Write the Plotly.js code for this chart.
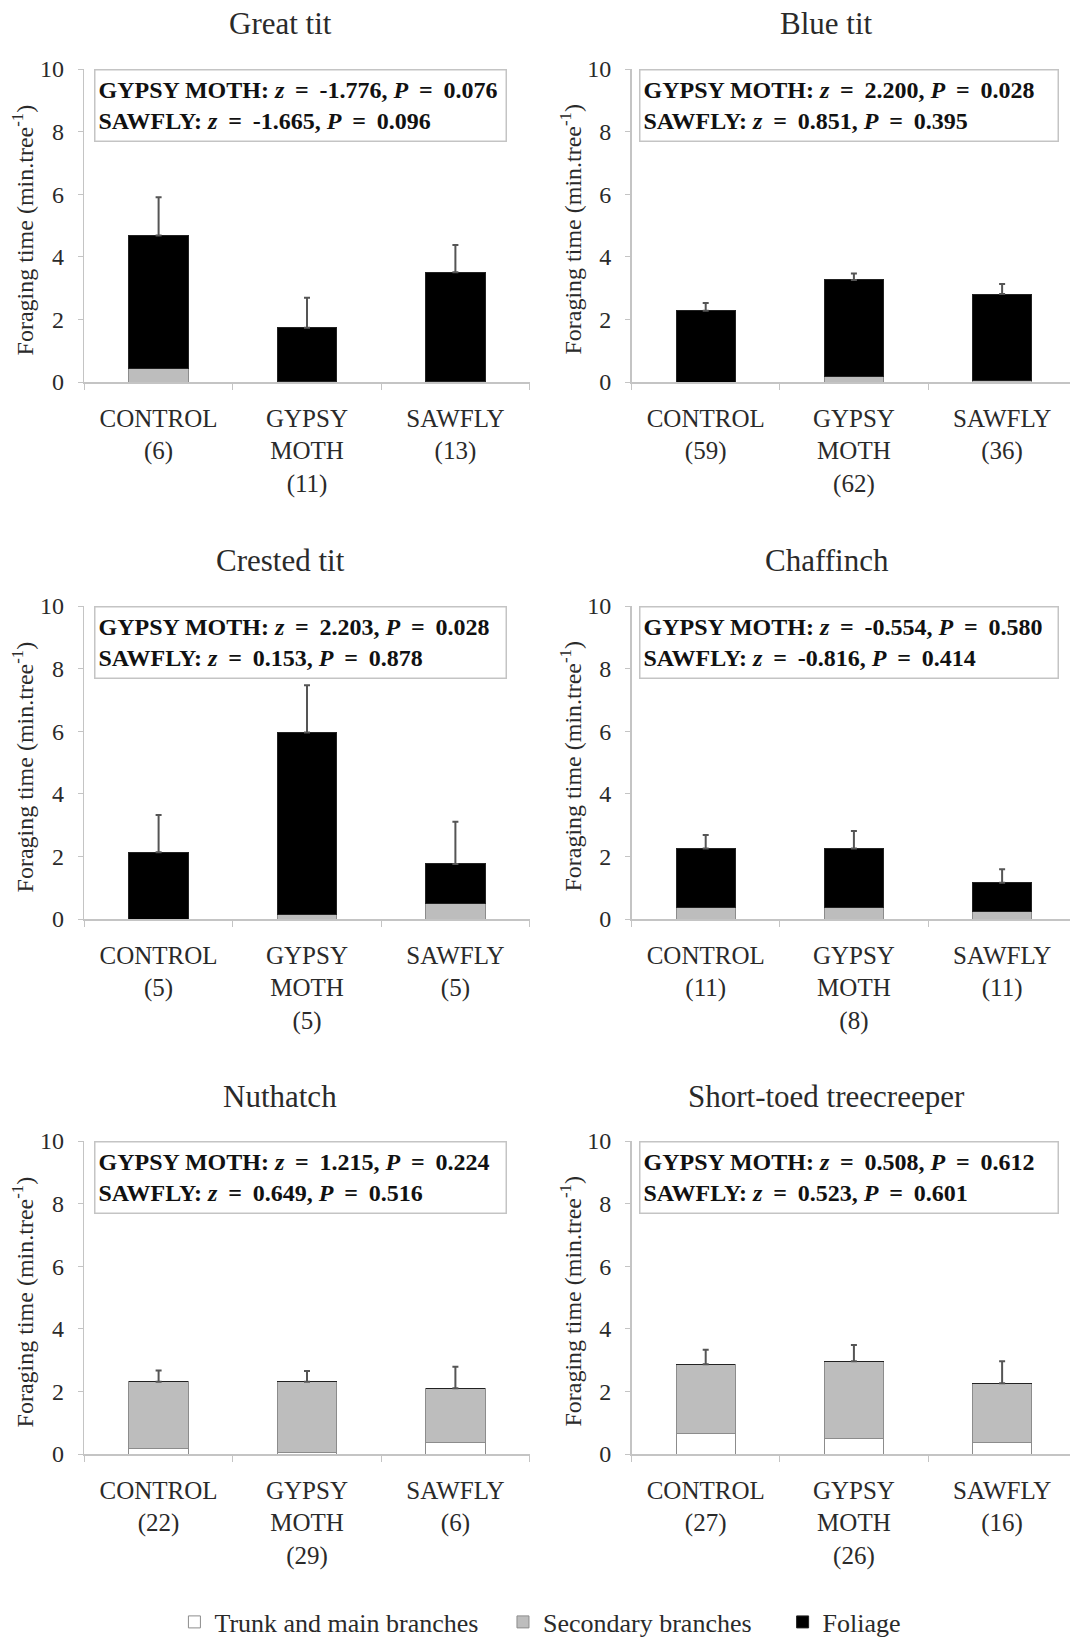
<!DOCTYPE html>
<html>
<head>
<meta charset="utf-8">
<script src="https://cdn.plot.ly/plotly-3.0.1.min.js"></script>
<style>
  html, body { margin: 0; padding: 0; background: #fff; }
  #chart { width: 1070px; height: 1641px; }
</style>
</head>
<body>
<div id="chart"></div>
<script>
// ---------------- DATA ----------------
const species = ["Great tit", "Blue tit", "Crested tit", "Chaffinch", "Nuthatch", "Short-toed treecreeper"];
const treatmentLabels = ["CONTROL", "GYPSY<br>MOTH", "SAWFLY"];
const sampleSizes = [[6, 11, 13], [59, 62, 36], [5, 5, 5], [11, 8, 11], [22, 29, 6], [27, 26, 16]];

// foraging time (min.tree-1) by substrate
const trunk     = [[0, 0, 0], [0, 0, 0], [0, 0, 0], [0, 0, 0], [0.18, 0.05, 0.37], [0.64, 0.51, 0.37]];
const secondary = [[0.44, 0.02, 0.03], [0, 0.16, 0.05], [0, 0.14, 0.48], [0.36, 0.36, 0.23], [2.13, 2.26, 1.73], [2.23, 2.45, 1.89]];
const foliage   = [[4.24, 1.71, 3.48], [2.28, 3.10, 2.76], [2.13, 5.82, 1.28], [1.89, 1.89, 0.93], [0, 0, 0], [0, 0, 0]];
const errorUp   = [[1.22, 0.96, 0.87], [0.24, 0.21, 0.32], [1.19, 1.51, 1.35], [0.43, 0.56, 0.43], [0.36, 0.34, 0.69], [0.46, 0.52, 0.70]];

// statistics
const gypsyZ  = ["-1.776", "2.200", "2.203", "-0.554", "1.215", "0.508"];
const gypsyP  = ["0.076", "0.028", "0.028", "0.580", "0.224", "0.612"];
const sawflyZ = ["-1.665", "0.851", "0.153", "-0.816", "0.649", "0.523"];
const sawflyP = ["0.096", "0.395", "0.878", "0.414", "0.516", "0.601"];

const substrateNames = ["Trunk and main branches", "Secondary branches", "Foliage"];
const yTitle = "Foraging time (min.tree<sup>-1</sup>)";
const yTicks = [0, 2, 4, 6, 8, 10];

// ---------------- STYLE / LAYOUT ----------------
const W = 1070, H = 1641;
const FONT = "Liberation Serif";
const TXT = "#2a2a2a";
const fills = ["#ffffff", "#bdbdbd", "#000000"];
const lines = ["#8c8c8c", "#8c8c8c", "#222222"];
const legendPad = ["&nbsp;&nbsp;&nbsp;", "&nbsp;&nbsp;&nbsp;&nbsp;", ""];

// pixel geometry of panels
const colX = [[84.4, 529.6], [631.6, 1070]];
const colRangeMax = [2.5, 2.458];
const rowY = [[69, 382], [606, 919], [1141, 1454]]; // [top(10), bottom(0)]
const titleX = [280, 826.5];
const titleY = [23, 560, 1096];
const boxX = [94, 638.6];
const boxW = [404, 411];
const THS = "&#8201;"; // thin space

const data = [];
const layout = {
  width: W, height: H,
  margin: {l: 0, r: 0, t: 0, b: 0, autoexpand: false},
  paper_bgcolor: "#fff", plot_bgcolor: "#fff",
  barmode: "stack",
  font: {family: FONT, color: TXT, size: 22},
  showlegend: true,
  legend: {
    orientation: "h", x: 0.163, xanchor: "left", y: 1 - 1622 / H, yanchor: "middle",
    traceorder: "normal", font: {family: FONT, size: 26, color: TXT},
    itemwidth: 30, bgcolor: "rgba(0,0,0,0)"
  },
  annotations: [],
  hovermode: false
};

species.forEach((sp, k) => {
  const col = k % 2, row = Math.floor(k / 2);
  const ax = k + 1;
  const xName = "x" + (ax === 1 ? "" : ax), yName = "y" + (ax === 1 ? "" : ax);
  const xKey = "xaxis" + (ax === 1 ? "" : ax), yKey = "yaxis" + (ax === 1 ? "" : ax);
  const cats = treatmentLabels.map((t, j) => t + "<br>(" + sampleSizes[k][j] + ")");
  const series = [trunk[k], secondary[k], foliage[k]];

  series.forEach((vals, s) => {
    data.push({
      type: "bar", x: cats, y: vals, xaxis: xName, yaxis: yName,
      name: substrateNames[s] + legendPad[s], legendgroup: substrateNames[s], showlegend: k === 0,
      marker: {color: fills[s], line: {color: lines[s], width: 1}},
      width: 0.4, hoverinfo: "skip"
    });
  });

  const totals = cats.map((c, j) => trunk[k][j] + secondary[k][j] + foliage[k][j]);
  data.push({
    type: "scatter", mode: "markers", x: cats, y: totals, xaxis: xName, yaxis: yName,
    marker: {opacity: 0, size: 1}, showlegend: false, hoverinfo: "skip",
    error_y: {type: "data", symmetric: false, array: errorUp[k], arrayminus: [0, 0, 0],
              color: "#555", thickness: 2, width: 3}
  });

  const [x0, x1] = colX[col];
  const [yt, yb] = rowY[row];
  layout[xKey] = {
    domain: [x0 / W, x1 / W], anchor: yName, type: "category",
    range: [-0.5, colRangeMax[col]], fixedrange: true,
    showline: true, linecolor: "#c4c4c4", linewidth: 1.5,
    ticks: "outside", tickson: "boundaries", ticklen: 6, tickcolor: "#c4c4c4",
    showgrid: false, zeroline: false, ticklabelstandoff: 13,
    tickfont: {family: FONT, size: 25, color: TXT}
  };
  layout[yKey] = {
    domain: [1 - yb / H, 1 - yt / H], anchor: xName,
    range: [0, 10], tickmode: "array", tickvals: yTicks, fixedrange: true,
    showline: true, linecolor: "#c4c4c4", linewidth: 1.5,
    ticks: "outside", ticklen: 5, tickcolor: "#c4c4c4",
    showgrid: false, zeroline: false, ticklabelstandoff: 9,
    tickfont: {family: FONT, size: 24, color: TXT}
  };

  // y-axis title (rotated annotation positioned relative to the axis)
  layout.annotations.push({
    xref: xName + " domain", yref: yName + " domain", x: 0, y: 0.5,
    xshift: -61.5, yshift: -4, xanchor: "center", yanchor: "middle",
    textangle: -90, showarrow: false, text: yTitle,
    font: {family: FONT, size: 24, color: TXT}
  });

  // subplot title
  layout.annotations.push({
    xref: "paper", yref: "paper", x: titleX[col] / W, y: 1 - titleY[row] / H,
    xanchor: "center", yanchor: "middle", showarrow: false,
    text: sp, font: {family: FONT, size: 31, color: TXT}
  });

  // statistics box
  layout.annotations.push({
    xref: "paper", yref: yName, x: boxX[col] / W, y: 10,
    xanchor: "left", yanchor: "top", showarrow: false,
    width: boxW[col], height: 64, align: "left", valign: "middle",
    bordercolor: "#c4c4c4", borderwidth: 1.5, borderpad: 3, bgcolor: "#fff",
    font: {family: FONT, size: 24, color: "#111"},
    text: "<b>GYPSY MOTH: <i>z</i>" + THS + " = " + THS + gypsyZ[k] + ", <i>P</i>" + THS + " = " + THS + gypsyP[k] + "</b><br>" +
          "<b>SAWFLY: <i>z</i>" + THS + " = " + THS + sawflyZ[k] + ", <i>P</i>" + THS + " = " + THS + sawflyP[k] + "</b>"
  });
});

Plotly.newPlot("chart", data, layout, {staticPlot: true, displayModeBar: false});
</script>
</body>
</html>
